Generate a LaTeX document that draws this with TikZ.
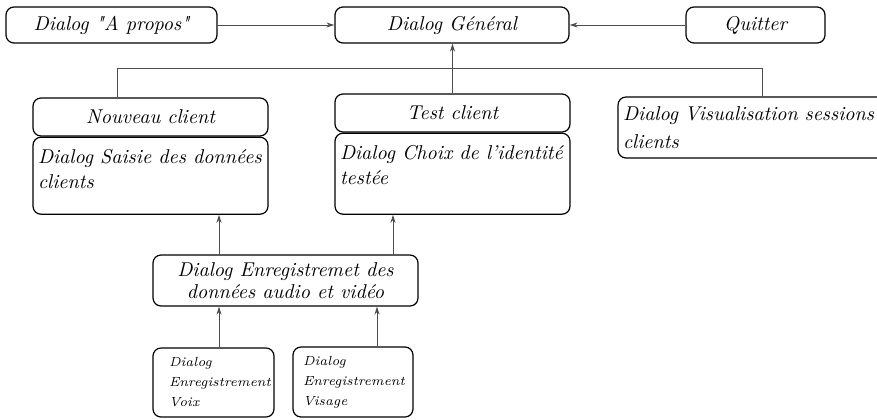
\documentclass[tikz,border=0pt]{standalone}
\usepackage{fontspec}
\newfontfamily\dialogfont{Latin Modern Roman}
\usetikzlibrary{positioning, arrows.meta}

\tikzset{
  dialog/.style={draw, rounded corners=4pt, line width=0.6pt, inner sep=2.5pt,
                 font=\dialogfont\fontsize{10}{12.5}\selectfont\itshape},
  small dialog/.style={dialog, align=left, font=\dialogfont\fontsize{6.6}{10}\selectfont\itshape},
  link/.style={draw=black!70, line width=0.5pt},
  call/.style={link, -{Stealth[length=4pt, width=2.5pt]}},
}
\newcommand{\toptext}[3]{\parbox[c][#2][t]{#1}{#3}}

\begin{document}
\begin{tikzpicture}[x=0.5pt, y=-0.5pt]
    \useasboundingbox (0,0) rectangle (877,419);
    \clip (0,0) rectangle (877,419);

    \node[dialog, minimum width=105.5pt, minimum height=18pt] (apropos) at (111.5,25) {Dialog "A propos"};
    \node[dialog, minimum width=117pt, minimum height=18pt] (general) at (452,25) {Dialog Général};
    \node[dialog, minimum width=69.5pt, minimum height=18pt] (quitter) at (755.5,25) {Quitter};

    \node[dialog, minimum width=117.5pt, minimum height=19pt] (nouveau) at (150.5,117) {Nouveau client};
    \node[dialog, below=0pt of nouveau, inner ysep=6pt] (saisie)
    {\toptext{112.5pt}{26.5pt}{Dialog Saisie des données\\clients}};
    \node[dialog, minimum width=117.5pt, minimum height=19pt] (test) at (452.5,113) {Test client};
    \node[dialog, below=0pt of test, inner ysep=6pt] (choix)
    {\toptext{112.5pt}{28.5pt}{Dialog Choix de l’identité\\testée}};
    \node[dialog, align=left, text width=139pt, minimum height=30.5pt,
          font=\dialogfont\fontsize{10}{14}\selectfont\itshape] (visual) at (762,127.5)
    {Dialog Visualisation sessions\\clients};

    \node[dialog, align=center, minimum width=132.5pt, minimum height=25.5pt,
          font=\dialogfont\fontsize{10}{11}\selectfont\itshape] (enreg) at (285.5,280.5)
    {Dialog Enregistremet des\\données audio et vidéo};
    \node[small dialog, text width=44.5pt, minimum height=34.5pt, inner xsep=8pt] (voix) at (213.5,382.5)
    {Dialog\\Enregistrement\\Voix};
    \node[small dialog, text width=50pt, minimum height=35pt, inner xsep=5pt] (visage) at (353,382)
    {Dialog\\Enregistrement\\Visage};

    \draw[call] (apropos) -- (general);
    \draw[call] (quitter) -- (general);
    \draw[call] (test.north) -- (test.north |- general.south);

    \coordinate (busleft) at (117,68);
    \coordinate (busright) at (762,68);
    \draw[link] (nouveau.north -| busleft) -- (busleft) -- (busright) -- (visual.north);

    \coordinate (lane1) at (219,0);
    \coordinate (lane2) at (393,0);
    \coordinate (lane3) at (377,0);
    \draw[call] (enreg.north -| lane1) -- (saisie.south -| lane1);
    \draw[call] (enreg.north -| lane2) -- (choix.south -| lane2);
    \draw[call] (voix.north -| lane1) -- (enreg.south -| lane1);
    \draw[call] (visage.north -| lane3) -- (enreg.south -| lane3);
\end{tikzpicture}
\end{document}
